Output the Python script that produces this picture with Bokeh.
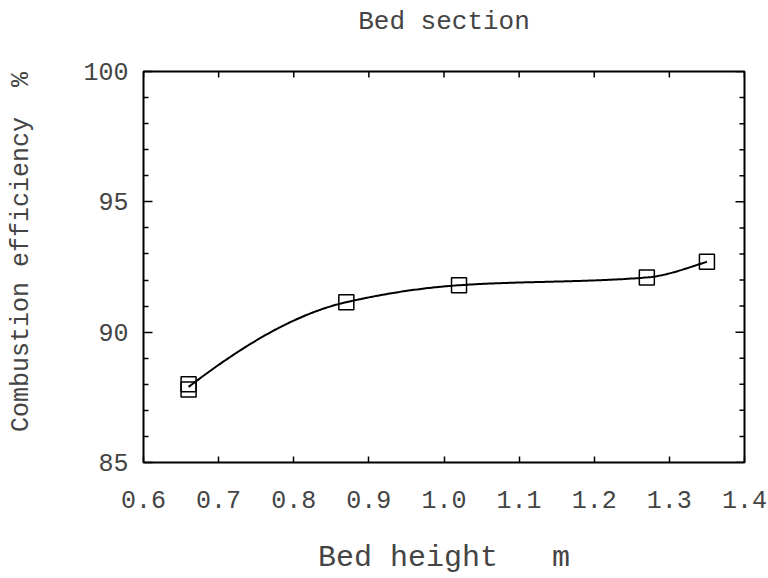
import numpy as np
from bokeh.plotting import figure
from bokeh.models import Range1d, FixedTicker, PrintfTickFormatter, ColumnDataSource
from bokeh.embed import file_html
from bokeh.resources import INLINE

# ---- data ----
bed_height = [0.66, 0.66, 0.87, 1.02, 1.27, 1.35]
efficiency = [88.0, 87.8, 91.15, 91.8, 92.1, 92.7]
x_ticks = [0.6, 0.7, 0.8, 0.9, 1.0, 1.1, 1.2, 1.3, 1.4]
y_ticks = [85, 90, 95, 100]
y_minor = [86, 87, 88, 89, 91, 92, 93, 94, 96, 97, 98, 99]

FONT = "Liberation Mono"
NB = "\u00a0"


def pchip(xk, yk, xs):
    xk = np.asarray(xk, float)
    yk = np.asarray(yk, float)
    h = np.diff(xk)
    d = np.diff(yk) / h
    n = len(xk)
    m = np.zeros(n)
    for i in range(1, n - 1):
        if d[i - 1] * d[i] <= 0:
            m[i] = 0.0
        else:
            w1 = 2 * h[i] + h[i - 1]
            w2 = h[i] + 2 * h[i - 1]
            m[i] = (w1 + w2) / (w1 / d[i - 1] + w2 / d[i])

    def end(h0, h1, d0, d1):
        s = ((2 * h0 + h1) * d0 - h0 * d1) / (h0 + h1)
        if np.sign(s) != np.sign(d0):
            s = 0.0
        elif np.sign(d0) != np.sign(d1) and abs(s) > abs(3 * d0):
            s = 3 * d0
        return s

    m[0] = end(h[0], h[1], d[0], d[1])
    m[-1] = end(h[-1], h[-2], d[-1], d[-2])
    ys = np.empty_like(xs)
    for j, x in enumerate(xs):
        i = min(max(np.searchsorted(xk, x) - 1, 0), n - 2)
        t = (x - xk[i]) / h[i]
        h00 = 2 * t**3 - 3 * t**2 + 1
        h10 = t**3 - 2 * t**2 + t
        h01 = -2 * t**3 + 3 * t**2
        h11 = t**3 - t**2
        ys[j] = h00 * yk[i] + h10 * h[i] * m[i] + h01 * yk[i + 1] + h11 * h[i] * m[i + 1]
    return ys


# knots of the smooth curve: mean value at each distinct bed height
ux = sorted(set(bed_height))
uy = [np.mean([e for b, e in zip(bed_height, efficiency) if b == u]) for u in ux]
cx = np.linspace(ux[0], ux[-1], 300)
cy = pchip(ux, uy, cx)

p = figure(width=768, height=578, output_backend="svg", toolbar_location=None,
           x_range=Range1d(0.6, 1.4), y_range=Range1d(85, 100),
           min_border_left=143, min_border_right=24, min_border_top=71, min_border_bottom=116,
           title="Bed section\n" + NB)
p.background_fill_color = "white"
p.border_fill_color = "white"
p.grid.visible = False
p.outline_line_color = "black"
p.outline_line_width = 2

p.title.text_font = FONT
p.title.text_font_size = "26px"
p.title.text_font_style = "normal"
p.title.align = "center"
p.title.vertical_align = "top"
p.title.standoff = 6

# bottom axis
xa = p.xaxis[0]
xa.ticker = FixedTicker(ticks=x_ticks, minor_ticks=[])
xa.formatter = PrintfTickFormatter(format="%.1f")
xa.axis_line_color = None
xa.major_tick_in = 6
xa.major_tick_out = 0
xa.major_tick_line_width = 1.5
xa.major_label_text_font = FONT
xa.major_label_text_font_size = "25px"
xa.major_label_standoff = 28
xa.axis_label = "Bed" + NB + "height" + NB * 3 + "m"
xa.axis_label_text_font = FONT
xa.axis_label_text_font_size = "30px"
xa.axis_label_text_font_style = "normal"
xa.axis_label_standoff = 30

# left axis
ya = p.yaxis[0]
ya.ticker = FixedTicker(ticks=y_ticks, minor_ticks=y_minor)
ya.axis_line_color = None
ya.major_tick_in = 9
ya.major_tick_out = 0
ya.minor_tick_in = 5
ya.minor_tick_out = 0
ya.major_tick_line_width = 1.5
ya.minor_tick_line_width = 1.5
ya.major_label_text_font = FONT
ya.major_label_text_font_size = "25px"
ya.major_label_standoff = 15
ya.axis_label = NB * 2 + "Combustion" + NB + "efficiency" + NB * 2 + "%"
ya.axis_label_text_font = FONT
ya.axis_label_text_font_size = "25px"
ya.axis_label_text_font_style = "normal"
ya.axis_label_standoff = 44

# inward ticks on the top and right edges (outer halves are clipped by the frame)
p.scatter(x_ticks, [100] * len(x_ticks), marker="dash", angle=np.pi / 2, size=12,
          line_color="black", line_width=1.5)
p.scatter([1.4] * len(y_ticks), y_ticks, marker="dash", size=18,
          line_color="black", line_width=1.5)
p.scatter([1.4] * len(y_minor), y_minor, marker="dash", size=10,
          line_color="black", line_width=1.5)

p.line(cx, cy, line_color="black", line_width=2)
src = ColumnDataSource(dict(x=bed_height, y=efficiency))
p.scatter("x", "y", source=src, marker="square", size=15, fill_color=None,
          line_color="black", line_width=1.5)

open("out.html", "w").write(file_html(p, INLINE))
